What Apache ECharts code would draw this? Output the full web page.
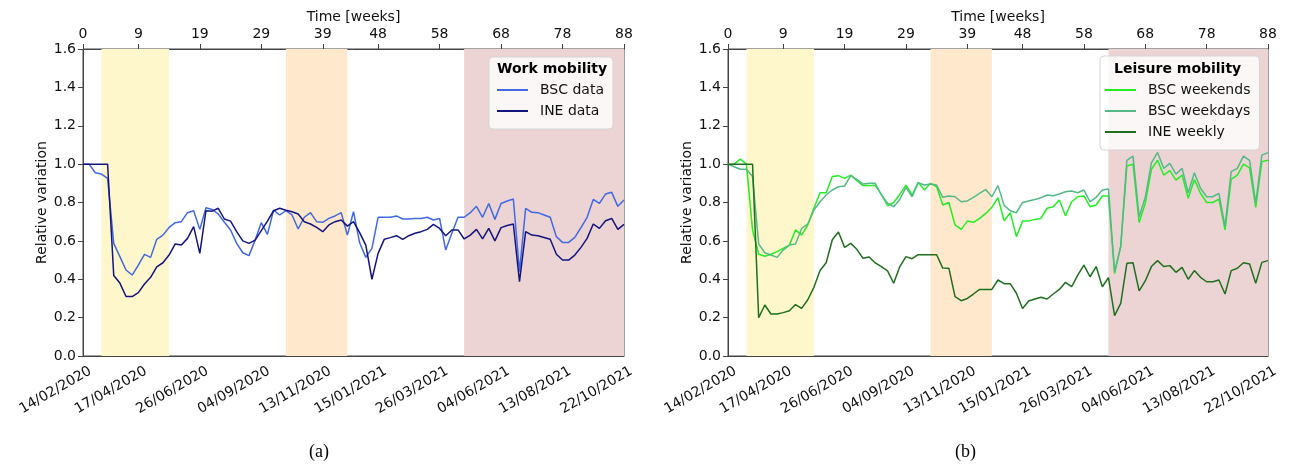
<!DOCTYPE html>
<html>
<head>
<meta charset="utf-8">
<script src="https://cdn.jsdelivr.net/npm/echarts@6/dist/echarts.min.js"></script>
<style>
html,body{margin:0;padding:0;background:#fff;}
#chart{width:1293px;height:467px;}
</style>
</head>
<body>
<div id="chart"></div>
<script>
const weeks = [0,1,2,3,4,5,6,7,8,9,10,11,12,13,14,15,16,17,18,19,20,21,22,23,24,25,26,27,28,29,30,31,32,33,34,35,36,37,38,39,40,41,42,43,44,45,46,47,48,49,50,51,52,53,54,55,56,57,58,59,60,61,62,63,64,65,66,67,68,69,70,71,72,73,74,75,76,77,78,79,80,81,82,83,84,85,86,87,88];
const tickWeeks = [0,9,19,29,39,48,58,68,78,88];
const tickDates = ['14/02/2020','17/04/2020','26/06/2020','04/09/2020','13/11/2020','15/01/2021','26/03/2021','04/06/2021','13/08/2021','22/10/2021'];

const workBSC = [1.0,1.0,0.955,0.948,0.926,0.587,0.518,0.448,0.422,0.474,0.53,0.514,0.608,0.63,0.67,0.695,0.70,0.747,0.757,0.66,0.773,0.764,0.74,0.697,0.657,0.587,0.538,0.523,0.604,0.695,0.634,0.76,0.735,0.757,0.735,0.662,0.723,0.747,0.70,0.697,0.717,0.73,0.747,0.63,0.752,0.59,0.514,0.561,0.723,0.723,0.723,0.73,0.714,0.714,0.716,0.717,0.723,0.709,0.717,0.552,0.64,0.723,0.723,0.747,0.78,0.723,0.795,0.712,0.795,0.808,0.818,0.44,0.77,0.749,0.747,0.735,0.723,0.622,0.592,0.592,0.618,0.669,0.723,0.816,0.795,0.844,0.853,0.78,0.813];
const workINE = [1.0,1.0,1.0,1.0,1.0,0.42,0.38,0.31,0.31,0.33,0.375,0.41,0.465,0.486,0.526,0.584,0.578,0.613,0.674,0.535,0.757,0.755,0.77,0.714,0.703,0.648,0.60,0.587,0.604,0.653,0.703,0.757,0.77,0.76,0.752,0.74,0.70,0.688,0.67,0.648,0.683,0.70,0.709,0.677,0.70,0.643,0.578,0.40,0.535,0.608,0.617,0.627,0.608,0.627,0.64,0.648,0.66,0.686,0.665,0.627,0.657,0.657,0.61,0.63,0.66,0.61,0.665,0.60,0.669,0.68,0.688,0.387,0.648,0.63,0.627,0.618,0.608,0.53,0.50,0.50,0.526,0.566,0.613,0.688,0.665,0.705,0.717,0.66,0.686];

const leisureWeekends = [1.0,1.0,1.026,1.0,0.657,0.53,0.52,0.53,0.544,0.561,0.578,0.657,0.63,0.683,0.77,0.851,0.851,0.935,0.94,0.926,0.943,0.914,0.888,0.888,0.888,0.842,0.783,0.80,0.842,0.891,0.839,0.905,0.865,0.90,0.882,0.787,0.80,0.683,0.66,0.703,0.697,0.717,0.743,0.775,0.825,0.705,0.747,0.622,0.703,0.703,0.712,0.717,0.77,0.778,0.813,0.731,0.804,0.83,0.834,0.778,0.787,0.834,0.834,0.43,0.573,0.99,1.0,0.695,0.796,0.973,1.02,0.943,0.966,0.917,0.943,0.822,0.92,0.848,0.80,0.80,0.818,0.657,0.92,0.943,1.0,0.981,0.775,1.013,1.02];
const leisureWeekdays = [1.0,0.986,0.973,0.973,0.935,0.584,0.538,0.526,0.514,0.552,0.578,0.584,0.665,0.688,0.76,0.804,0.839,0.865,0.882,0.886,0.94,0.921,0.896,0.90,0.90,0.839,0.796,0.778,0.816,0.879,0.83,0.903,0.891,0.896,0.891,0.827,0.834,0.83,0.804,0.808,0.827,0.848,0.868,0.83,0.888,0.785,0.757,0.747,0.80,0.808,0.816,0.825,0.839,0.835,0.844,0.856,0.86,0.851,0.865,0.804,0.827,0.865,0.87,0.44,0.57,1.02,1.042,0.726,0.827,1.007,1.061,0.978,1.004,0.948,0.978,0.851,0.955,0.874,0.83,0.83,0.848,0.674,0.961,0.978,1.042,1.02,0.796,1.047,1.06];
const leisureINE = [1.0,1.0,1.0,1.0,1.0,0.20,0.266,0.219,0.219,0.226,0.236,0.268,0.248,0.293,0.358,0.446,0.486,0.606,0.646,0.566,0.587,0.556,0.509,0.516,0.485,0.466,0.444,0.379,0.466,0.518,0.507,0.528,0.528,0.528,0.528,0.458,0.457,0.309,0.288,0.30,0.323,0.347,0.347,0.347,0.396,0.377,0.377,0.327,0.248,0.287,0.297,0.306,0.297,0.323,0.347,0.384,0.361,0.422,0.474,0.413,0.466,0.361,0.408,0.21,0.274,0.483,0.486,0.339,0.391,0.466,0.497,0.466,0.471,0.436,0.462,0.40,0.445,0.41,0.387,0.387,0.396,0.323,0.445,0.457,0.486,0.479,0.379,0.488,0.497];

const periods = [[3,14],[33,43],[62,88]];
const periodColors = ['#fff7cc','#ffe8cc','#edd4d4'];

const FONT = 'DejaVu Sans';
const pair = arr => weeks.map((w,i)=>[w, arr[i]]);

function xAxes(gridIndex){
  return [{
    type:'value', gridIndex, position:'bottom', min:0, max:88,
    axisLine:{show:true,lineStyle:{color:'#444',width:1}},
    axisTick:{show:false},
    splitLine:{show:false},
    axisLabel:{show:false}
  },{
    type:'value', gridIndex, position:'top', min:0, max:88,
    name:'Time [weeks]', nameLocation:'middle', nameGap:25, nameMoveOverlap:false,
    nameTextStyle:{color:'#111',fontFamily:FONT,fontSize:14},
    axisLine:{show:true,lineStyle:{color:'#444',width:1}},
    axisTick:{show:true,customValues:tickWeeks,length:5,lineStyle:{color:'#444'}},
    splitLine:{show:false},
    axisLabel:{customValues:tickWeeks, margin:8, color:'#111', fontFamily:FONT, fontSize:14,
      formatter:v=>String(Math.round(v))}
  }];
}
function yAxis(gridIndex){
  return {
    type:'value', gridIndex, min:0, max:1.6, interval:0.2,
    name:'Relative variation', nameLocation:'middle', nameGap:33, nameRotate:90,
    nameTextStyle:{color:'#111',fontFamily:FONT,fontSize:14},
    axisLine:{show:true,lineStyle:{color:'#444',width:1}},
    axisTick:{show:true,length:5,lineStyle:{color:'#444'}},
    splitLine:{show:false},
    axisLabel:{margin:7,color:'#111',fontFamily:FONT,fontSize:14,formatter:v=>v.toFixed(1)}
  };
}
function markArea(){
  return {silent:true, data: periods.map((p,i)=>[{xAxis:p[0],itemStyle:{color:periodColors[i]}},{xAxis:p[1]}])};
}
function line(name, arr, color, xi, yi, withArea){
  const s = {name, type:'line', xAxisIndex:xi, yAxisIndex:yi, data:pair(arr), symbol:'none',
    lineStyle:{color, width:1.5}, itemStyle:{color}, emphasis:{disabled:true}, animation:false};
  if(withArea) s.markArea = markArea();
  return s;
}
const legendBase = {orient:'vertical', icon:'rect', itemGap:7, itemWidth:31, itemHeight:2,
  backgroundColor:'rgba(255,255,255,0.8)', borderColor:'#d4d4d4', borderWidth:1, borderRadius:4,
  textStyle:{fontFamily:FONT,fontSize:14,color:'#111',padding:[0,0,0,7]}, selectedMode:false};

const captions = [
  {type:'text', left:309, top:443, style:{text:'(a)', font:'18px "Liberation Serif"', fill:'#000'}},
  {type:'text', left:955, top:443, style:{text:'(b)', font:'18px "Liberation Serif"', fill:'#000'}}
];

const chart = echarts.init(document.getElementById('chart'), null, {renderer:'canvas'});
chart.setOption({
  animation:false,
  backgroundColor:'#fff',
  grid:[
    {left:83, top:49, width:541, height:307, show:true, borderColor:'#444', borderWidth:1, backgroundColor:'transparent'},
    {left:728, top:49, width:540, height:307, show:true, borderColor:'#444', borderWidth:1, backgroundColor:'transparent'}
  ],
  xAxis:[...xAxes(0), ...xAxes(1)],
  yAxis:[yAxis(0), yAxis(1)],
  title:[
    {text:'Work mobility', left:497, top:62, textStyle:{fontFamily:FONT,fontSize:14,fontWeight:'bold',color:'#000'}, padding:0, z:10},
    {text:'Leisure mobility', left:1114, top:62, textStyle:{fontFamily:FONT,fontSize:14,fontWeight:'bold',color:'#000'}, padding:0, z:10}
  ],
  legend:[
    Object.assign({}, legendBase, {data:['BSC data','INE data'], left:489, top:57, padding:[26,9,11,8]}),
    Object.assign({}, legendBase, {data:['BSC weekends','BSC weekdays','INE weekly'], left:1100, top:56, padding:[27,9,11,5]})
  ],
  series:[
    line('BSC data', workBSC, '#4169e1', 0, 0, true),
    line('INE data', workINE, '#14147f', 0, 0, false),
    line('BSC weekends', leisureWeekends, '#22ee22', 2, 1, true),
    line('BSC weekdays', leisureWeekdays, '#55b888', 2, 1, false),
    line('INE weekly', leisureINE, '#1f6f1f', 2, 1, false)
  ],
  graphic: captions
});

// rotated date tick labels placed through the library's own axis scale
const dateLabels = [];
[[0,0],[2,1]].forEach(([xi, yi]) => {
  const y0 = chart.convertToPixel({yAxisIndex: yi}, 0);
  tickWeeks.forEach((w, i) => {
    const px = chart.convertToPixel({xAxisIndex: xi}, w);
    dateLabels.push({type:'text', x: px + 4, y: y0 + 8, rotation: Math.PI/6, silent:true,
      style:{text: tickDates[i], align:'right', verticalAlign:'top', font:'14px "DejaVu Sans"', fill:'#111'}});
  });
});
chart.setOption({graphic: captions.concat(dateLabels)}, {replaceMerge:['graphic']});
</script>
</body>
</html>
